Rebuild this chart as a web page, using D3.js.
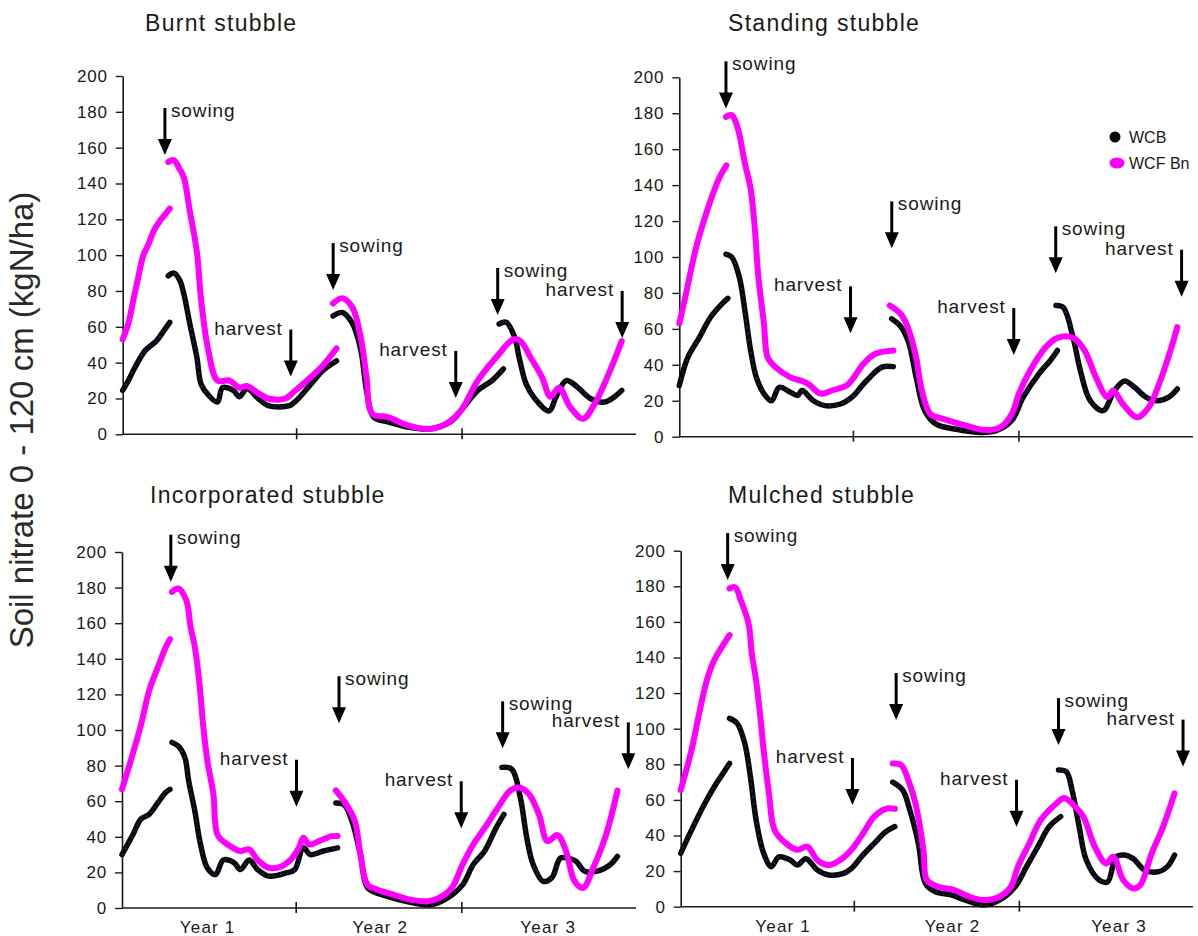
<!DOCTYPE html>
<html>
<head>
<meta charset="utf-8">
<script src="https://cdn.jsdelivr.net/npm/d3@7"></script>
<style>
  body { margin: 0; background: #fff; }
  text { font-family: "Liberation Sans", Arial, sans-serif; fill: #1a1a1a; }
</style>
</head>
<body>
<script>
// x values are months since start of Year 1, y values are soil nitrate (kgN/ha)
// each series is split into segments (the lines break at sowing)

const yTicks = [0, 20, 40, 60, 80, 100, 120, 140, 160, 180, 200];
const yearBoundaries = [12.2, 23.8];
const yearNames = ["Year 1", "Year 2", "Year 3"];
const seriesNames = ["WCB", "WCF Bn"];

// Burnt stubble
const burntWCB = [
  [[0,24.5],[0.4,30],[0.87,37.5],[1.6,47],[2.35,52],[2.9,58],[3.3,62.5]],
  [[3.2,88.5],[3.6,90],[4.0,86],[4.3,78],[4.7,62],[5.2,43],[5.5,28],[6.0,22],[6.65,18],[7.0,26],[7.75,24.5],[8.2,21],[8.7,25.5],[9.5,20],[10.2,16],[11.7,16],[12.2,19],[13.2,28],[14.1,36],[15.0,41]],
  [[14.75,66],[15.4,68],[16.1,62],[16.7,47],[17.1,24.5],[17.6,9.6],[18.6,7],[20.0,4],[21.5,3],[23.0,7],[23.7,13],[24.9,24.5],[25.9,30],[26.7,36.5]],
  [[26.4,61.6],[26.9,62.5],[27.5,54],[27.8,43],[28.3,28],[28.9,20],[29.9,13],[30.4,21],[31.1,30],[31.8,27],[32.8,20],[33.8,18],[34.5,21],[35.0,24.5]]
];
const burntWCF = [
  [[0,53],[0.4,62],[0.75,75],[1.1,88],[1.45,100],[1.8,106],[2.2,114],[2.6,119],[3.0,123],[3.3,126]],
  [[3.2,152],[3.57,153],[4.0,148],[4.3,143],[4.7,125],[5.2,102],[5.5,75],[6.0,47],[6.65,30],[7.5,30],[8.2,26],[8.7,27],[9.5,23],[10.2,20],[11.4,20],[12.05,24],[13.2,32],[14.1,39],[15.0,48]],
  [[14.75,73],[15.4,76],[16.1,71],[16.7,54],[17.1,32],[17.5,11.5],[18.6,9.6],[20.0,5],[21.5,3],[22.7,6],[23.7,13],[24.9,30],[26.2,43],[27.4,53],[27.9,52],[28.6,43],[29.4,32],[30.0,21],[30.6,26],[31.4,15],[32.3,8.7],[33.1,17],[34.1,34],[35.0,52]]
];
const burntArrows = [[2.96,155.9,"sowing"],[11.79,32.2,"harvest"],[14.76,80.5,"sowing"],[23.36,20.3,"harvest"],[26.3,66.6,"sowing"],[35.03,53.8,"harvest"]];

// Standing stubble
const standingWCB = [
  [[0,28.4],[0.59,44],[1.39,55],[2.19,66.5],[3.0,74],[3.4,77]],
  [[3.27,101.5],[3.67,100],[4.2,89],[4.6,70],[5.0,48],[5.4,33],[5.93,24],[6.47,20],[7.0,27.5],[7.8,24.7],[8.3,23],[8.6,25.7],[9.4,20],[10.2,17.3],[11.3,18.2],[12.1,22],[13.1,31],[14.2,38.7],[15.0,39]],
  [[14.88,65.6],[15.55,61],[16.1,51.7],[16.6,33],[17.2,14.5],[18.0,7],[19.3,4.3],[21.2,2.4],[22.2,3.3],[23.3,9],[24.1,22],[25.2,35],[26.0,42.4],[26.5,48]],
  [[26.4,73],[26.9,72],[27.6,55],[28.1,37],[28.8,20],[29.7,14.5],[30.5,25.7],[31.2,31],[31.9,27.5],[32.7,22],[33.5,20],[34.3,22],[34.9,26.6]]
];
const standingWCF = [
  [[0,63],[0.4,77],[0.8,92],[1.2,106],[1.6,117],[2.0,127],[2.4,136],[2.8,144],[3.3,151]],
  [[3.27,178],[3.67,179],[4.07,172.5],[4.6,152],[5.0,138],[5.3,115],[5.53,90],[5.93,63],[6.2,44],[6.74,38.7],[7.8,33],[8.6,31],[9.1,29],[9.9,24],[10.7,25.7],[11.8,29],[12.9,40.5],[13.7,46],[15.0,48]],
  [[14.75,73],[15.55,68],[16.1,59],[16.6,44],[17.0,25.7],[17.6,12.6],[18.5,9.9],[20.1,6.1],[21.4,3.7],[22.5,5.2],[23.3,12.6],[23.8,24],[24.6,37],[25.7,50],[26.5,55],[27.6,55],[28.4,48],[29.2,33],[30.0,22],[30.4,25.7],[31.1,18],[32.1,10.8],[32.9,16.4],[33.7,31],[34.5,50],[34.9,61]]
];
const standingArrows = [[3.27,182.7,"sowing"],[12.0,57.5,"harvest"],[14.89,104.8,"sowing"],[23.44,45.5,"harvest"],[26.38,90.9,"sowing"],[35.2,77.9,"harvest"]];

// Incorporated stubble
const incWCB = [
  [[0,30],[0.75,41],[1.33,50],[1.9,52.6],[2.5,59],[3.07,65],[3.36,66.7]],
  [[3.5,93],[3.94,91],[4.4,84.6],[4.67,71.4],[5.1,54.5],[5.5,35.7],[5.98,22.5],[6.55,18.8],[7.1,27],[7.86,25.4],[8.3,21.6],[8.9,27],[9.5,21.6],[10.3,17.9],[11.5,19.7],[12.1,21.6],[12.7,33.8],[13.2,30],[14.1,32],[15.1,33.8]],
  [[14.98,59],[15.56,58],[16.1,49],[16.7,30],[17.2,11.3],[18.2,7.5],[19.9,3.8],[21.7,1.9],[22.8,5.6],[23.85,13],[24.6,24.4],[25.4,32],[26.2,45],[26.75,52.6]],
  [[26.6,79],[27.3,78],[27.9,62],[28.35,39.5],[28.8,24.4],[29.5,15],[30.1,17],[30.7,28],[31.25,28],[31.8,26.3],[32.4,20.7],[33.3,20.7],[34.2,24.4],[34.7,29]]
];
const incWCF = [
  [[0,66.7],[0.75,86.5],[1.33,103],[1.9,122],[2.5,135],[3.07,146.6],[3.36,151]],
  [[3.5,177.6],[3.94,179.5],[4.5,173],[4.8,158],[5.1,146.6],[5.4,128],[5.7,101.5],[5.98,82.7],[6.4,64],[6.7,41],[7.4,35.7],[8.3,32],[8.9,33],[9.5,27],[10.3,22.5],[11.2,23.5],[11.8,27],[12.4,34],[12.7,39.5],[13.1,35.7],[13.8,37.6],[14.7,40.4],[15.1,40.4]],
  [[14.98,66],[15.56,60],[16.3,49],[16.7,30],[17.2,13],[17.9,10.3],[19.0,7.5],[20.2,4.7],[21.4,3.8],[22.2,5.6],[23.1,11.3],[23.85,24.4],[24.6,35.7],[25.4,45],[26.3,56],[27.2,66],[27.8,67.7],[28.5,64],[29.2,52.6],[29.8,37.6],[30.5,41],[31.1,32],[31.7,15],[32.3,11.3],[33.0,22.5],[33.9,41],[34.7,66]]
];
const incArrows = [[3.42,183.3,"sowing"],[12.22,56.9,"harvest"],[15.2,103.8,"sowing"],[23.76,44.8,"harvest"],[26.66,89.7,"sowing"],[35.46,77.9,"harvest"]];

// Mulched stubble
const mulWCB = [
  [[0,30],[0.76,43],[1.56,56],[2.36,67.4],[2.9,74],[3.43,80.5]],
  [[3.43,105.8],[3.97,103],[4.5,91.8],[4.9,73],[5.3,48.7],[5.83,30],[6.37,22.5],[6.9,28],[7.7,26.2],[8.2,23.4],[8.8,27],[9.6,20.6],[10.4,17.8],[11.45,18.7],[12.0,21.5],[12.8,29],[13.6,35.6],[14.4,42],[15.05,45]],
  [[14.9,70],[15.6,65.5],[16.1,54.3],[16.7,35.6],[17.2,13],[17.9,8.4],[19.0,6.6],[20.0,3.7],[21.3,1],[22.4,3.7],[23.5,11.2],[24.3,22.5],[25.1,33.7],[25.9,45],[26.7,50.6]],
  [[26.55,76.8],[27.1,75.8],[27.5,65.5],[28.0,45],[28.5,26.2],[29.4,15],[30.0,14],[30.6,28],[31.2,29],[31.8,27],[32.6,20.6],[33.6,19.7],[34.2,22.5],[34.7,29]]
];
const mulWCF = [
  [[0,65.5],[0.76,88],[1.3,108.6],[1.83,127],[2.36,138.6],[2.9,146],[3.43,152.6]],
  [[3.43,178.8],[3.83,179.4],[4.23,172],[4.77,159],[5.0,142],[5.3,127],[5.57,108.6],[5.83,88],[6.2,63.7],[6.6,43],[7.4,35.6],[8.2,32],[8.9,33.7],[9.6,26.2],[10.4,23.4],[11.2,26.2],[12.0,32],[12.8,41],[13.6,50.6],[14.4,55],[15.05,55]],
  [[14.9,80.5],[15.5,79.6],[16.0,71],[16.5,58],[17.06,31.8],[17.3,15],[18.1,11.2],[19.2,9.4],[20.3,5.6],[21.3,3.7],[22.4,5.6],[23.2,11.2],[23.7,22.5],[24.5,35.6],[25.3,48.7],[26.4,58],[26.95,61],[27.75,56],[28.3,50.6],[29.1,33.7],[29.9,24.3],[30.4,28],[31.1,15],[31.8,10.3],[32.3,12.2],[33.1,30],[33.9,45],[34.7,63.7]]
];
const mulArrows = [[3.3,183.5,"sowing"],[12.07,57.1,"harvest"],[15.14,104.9,"sowing"],[23.6,44.9,"harvest"],[26.55,90.8,"sowing"],[35.3,78.7,"harvest"]];

// panel layout (pixel frame of each small chart)
const panels = [
  { title: "Burnt stubble", wcb: burntWCB, wcf: burntWCF, arrows: burntArrows,
    x0: 122.7, x1: 636, yTop: 76, yBot: 434.3, titleX: 145, titleY: 31, years: null },
  { title: "Standing stubble", wcb: standingWCB, wcf: standingWCF, arrows: standingArrows,
    x0: 679.3, x1: 1193, yTop: 77.3, yBot: 436.7, titleX: 728, titleY: 31, years: null, legend: true },
  { title: "Incorporated stubble", wcb: incWCB, wcf: incWCF, arrows: incArrows,
    x0: 122, x1: 636, yTop: 552, yBot: 908, titleX: 150, titleY: 503, years: [6.0, 18.1, 29.85] },
  { title: "Mulched stubble", wcb: mulWCB, wcf: mulWCF, arrows: mulArrows,
    x0: 680.7, x1: 1193, yTop: 550.7, yBot: 906.7, titleX: 728, titleY: 503, years: [7.2, 19.1, 30.8] }
];

const WIDTH = 1198, HEIGHT = 936;
const BLACK = "#0a0a0a", MAGENTA = "#ff00ff";

const svg = d3.select("body").append("svg")
  .attr("width", WIDTH)
  .attr("height", HEIGHT);

// shared y axis title
svg.append("text")
  .attr("transform", "translate(33,420) rotate(-90)")
  .attr("text-anchor", "middle")
  .style("font-size", "33px")
  .style("fill", "#2a2a2a")
  .text("Soil nitrate 0 - 120 cm (kgN/ha)");

panels.forEach(p => {
  const x = d3.scaleLinear().domain([0, 36]).range([p.x0, p.x1]);
  const y = d3.scaleLinear().domain([0, 200]).range([p.yBot, p.yTop]);
  const g = svg.append("g");

  // title
  g.append("text")
    .attr("x", p.titleX)
    .attr("y", p.titleY)
    .style("font-size", "23px")
    .style("letter-spacing", "1.3px")
    .text(p.title);

  // y axis
  const yAxis = g.append("g")
    .attr("transform", `translate(${p.x0},0)`)
    .call(d3.axisLeft(y).tickValues(yTicks).tickSize(7).tickPadding(8).tickSizeOuter(0));
  yAxis.select(".domain").attr("stroke", "#1a1a1a").attr("stroke-width", 1.6);
  yAxis.selectAll(".tick line").attr("stroke", "#1a1a1a").attr("stroke-width", 1.4);
  yAxis.selectAll(".tick text")
    .attr("fill", "#1a1a1a")
    .style("font-size", "17px")
    .style("letter-spacing", "0.8px")
    .style("font-family", "'Liberation Sans', Arial, sans-serif");

  // x axis line + year boundary ticks
  g.append("line")
    .attr("x1", x(0)).attr("x2", x(36))
    .attr("y1", y(0)).attr("y2", y(0))
    .attr("stroke", "#1a1a1a").attr("stroke-width", 1.6);
  g.selectAll(".ytick")
    .data(yearBoundaries)
    .join("line")
    .attr("x1", d => x(d)).attr("x2", d => x(d))
    .attr("y1", y(0) - 6).attr("y2", y(0) + 5)
    .attr("stroke", "#1a1a1a").attr("stroke-width", 1.6);

  if (p.years) {
    g.selectAll(".yearlab")
      .data(p.years)
      .join("text")
      .attr("x", d => x(d))
      .attr("y", y(0) + 25)
      .attr("text-anchor", "middle")
      .style("font-size", "17px")
      .style("letter-spacing", "1.2px")
      .text((d, i) => yearNames[i]);
  }

  const line = d3.line()
    .x(d => x(d[0]))
    .y(d => y(d[1]))
    .curve(d3.curveCatmullRom.alpha(0.5));

  // WCB (black, drawn below)
  g.selectAll(".wcb")
    .data(p.wcb)
    .join("path")
    .attr("d", line)
    .attr("fill", "none")
    .attr("stroke", BLACK)
    .attr("stroke-width", 5.5)
    .attr("stroke-linecap", "round")
    .attr("stroke-linejoin", "round");
  g.selectAll(".wcbdots")
    .data(p.wcb)
    .join("path")
    .attr("d", line)
    .attr("fill", "none")
    .attr("stroke", "#1c2a8a")
    .attr("stroke-width", 1.6)
    .attr("stroke-dasharray", "1.5,5");

  // WCF Bn (magenta, on top)
  g.selectAll(".wcf")
    .data(p.wcf)
    .join("path")
    .attr("d", line)
    .attr("fill", "none")
    .attr("stroke", MAGENTA)
    .attr("stroke-width", 6)
    .attr("stroke-linecap", "round")
    .attr("stroke-linejoin", "round");

  // sowing / harvest arrows
  const ARROW_LEN = 47, HEAD_W = 7, HEAD_L = 16;
  p.arrows.forEach(([m, v, kind]) => {
    const ax = x(m), tip = y(v), top = tip - ARROW_LEN;
    g.append("line")
      .attr("x1", ax).attr("x2", ax)
      .attr("y1", top).attr("y2", tip - HEAD_L + 2)
      .attr("stroke", "#000").attr("stroke-width", 3);
    g.append("path")
      .attr("d", `M${ax - HEAD_W},${tip - HEAD_L} L${ax + HEAD_W},${tip - HEAD_L} L${ax},${tip} Z`)
      .attr("fill", "#000");
    g.append("text")
      .attr("x", kind === "sowing" ? ax + 6 : ax - 8)
      .attr("y", kind === "sowing" ? top + 9 : top + 5)
      .attr("text-anchor", kind === "sowing" ? "start" : "end")
      .style("font-size", "19px")
      .style("letter-spacing", "0.9px")
      .text(kind);
  });

  // legend
  if (p.legend) {
    const lg = g.append("g");
    lg.append("circle").attr("cx", 1115).attr("cy", 137).attr("r", 5.5).attr("fill", BLACK);
    lg.append("ellipse").attr("cx", 1117).attr("cy", 163).attr("rx", 7.5).attr("ry", 5.5).attr("fill", MAGENTA);
    lg.selectAll(".legtext")
      .data(seriesNames)
      .join("text")
      .attr("x", 1129)
      .attr("y", (d, i) => 143 + i * 26)
      .style("font-size", "16px")
      .text(d => d);
  }
});
</script>
</body>
</html>
